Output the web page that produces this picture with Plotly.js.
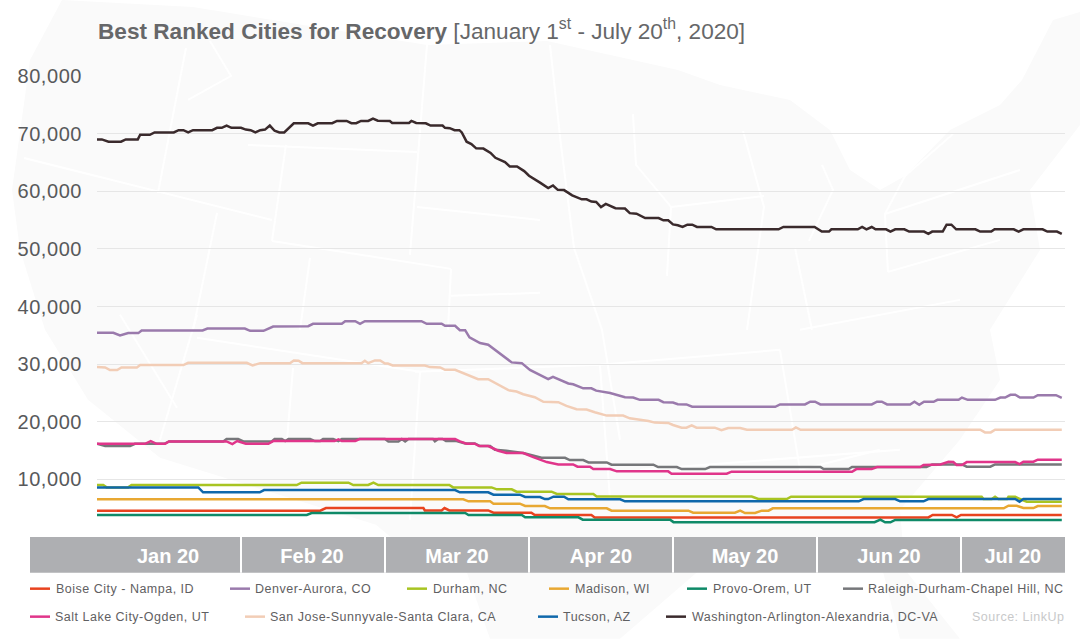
<!DOCTYPE html>
<html><head><meta charset="utf-8">
<script src="https://cdn.plot.ly/plotly-3.0.1.min.js"></script>
<style>
html,body{margin:0;padding:0;background:#fff}
#chart{width:1080px;height:639px}
.annotation-text{letter-spacing:.5px}
.ytick text{letter-spacing:.55px}
</style></head><body><div id="chart"></div>
<script>
// x unit: day index on the chart's equal-width (30 day) month scale; Jan 1 = 0
const monthLabels=["Jan 20","Feb 20","Mar 20","Apr 20","May 20","Jun 20","Jul 20"];
const monthCentres=[14.8,44.8,75,105,135,165,190.8];
const monthEdges=[30,60,90,120,150,180];
const yTicks=[10000,20000,30000,40000,50000,60000,70000,80000];
const names=["Boise City - Nampa, ID","Denver-Aurora, CO","Durham, NC","Madison, WI","Provo-Orem, UT","Raleigh-Durham-Chapel Hill, NC","Salt Lake City-Ogden, UT","San Jose-Sunnyvale-Santa Clara, CA","Tucson, AZ","Washington-Arlington-Alexandria, DC-VA"];

const boiseDays=[0,46.5,47.7,68,68.3,71.8,72.4,73.4,81.5,82.6,90.5,91.2,103,103.7,173.2,174.1,178.1,179.1,180,201];
const boiseValues=[4570,4570,5030,5030,4620,4620,5030,4620,4620,4220,4220,3820,3820,3400,3400,3820,3820,3410,3820,3820];

const denverDays=[0,3.4,4.8,6.5,8.6,9.3,22,23,30.8,31.9,34.7,36.7,44,45,51,51.7,53.8,54.8,55.8,67.6,68.7,71.8,72.5,74.6,75.6,76.7,77.6,79.8,81.5,84,86.4,88.5,90.2,94,95,98.2,99.2,101.3,103,104,106.9,110,111.7,113.1,117,118,120,121,122.8,124,141.3,142.3,147.5,148.6,149.6,150.7,161.4,162.5,163.5,164.6,169.4,170.3,171.3,172.3,174.3,175.1,179.5,180.2,181.4,187.1,188.2,189.2,190.3,191.3,192.3,195.1,196,199.8,201];
const denverValues=[35430,35430,34970,35380,35380,35840,35840,36180,36180,35780,35780,36530,36590,37000,37000,37450,37450,37000,37450,37450,37000,37000,36650,36650,35900,35900,34640,33650,33360,31740,30300,30170,29000,27400,27800,26640,26500,25800,25800,25400,25000,24250,24200,23800,23800,23400,23350,23050,23000,22600,22600,23000,23000,23470,23470,23000,23000,23470,23470,23000,23000,23470,22950,23470,23470,23800,23800,24200,23800,23800,24200,24200,24680,24680,24200,24200,24620,24620,24160];

const durhamDays=[0,1.3,2,6.5,7.2,41.6,42.6,52.4,53.4,56.5,57.6,58.6,73.4,74.2,82.2,83.3,86.4,87.4,94.7,95.8,103.4,104.1,136.4,137.8,143.7,144.6,184.3,184.7,186.4,187.1,187.8,189.6,189.9,191.3,192.3,193.7,201];
const durhamValues=[9020,9020,8610,8610,9020,9020,9420,9420,9020,9020,9420,9020,9020,8610,8610,8270,8270,7860,7860,7460,7460,7020,7020,6590,6590,7000,7000,6590,6590,7000,6590,6590,7000,7000,6590,6130,6130];

const madisonDays=[0,76.3,77.4,81.9,82.6,88.1,89.2,93.3,94.4,106.2,107.2,123.2,124.2,132.9,134,135,137.1,138.5,139.9,140.8,188.9,189.9,191.6,193,195.1,196,201];
const madisonValues=[6530,6530,6190,6190,5780,5780,5380,5380,4970,4970,4570,4570,4220,4220,4570,4160,4160,4570,4570,4970,4970,5430,5430,5030,5030,5380,5380];

const provoDays=[0,43.7,44.7,76.7,77.4,88.5,89.2,100.3,101.2,119.4,120.1,162,163.2,164.2,165.3,166.3,201];
const provoValues=[3820,3820,4160,4160,3820,3820,3410,3410,3010,3010,2580,2560,3010,2540,2540,2950,2950];

const raleighDays=[0,1.7,6.9,7.9,14,15,26.3,27,29.4,30.5,36.4,37,38.5,39.2,39.9,44.4,45.4,46.5,47.1,49.2,50.3,51,60,60.7,62.8,63.5,64.2,64.9,70,70.4,71.1,72,72.7,74.9,76.7,78.7,79.8,81.9,82.9,85.3,88.8,91.6,92.6,97.5,98.5,101.3,102.4,106.2,107.2,115.9,116.9,120.8,121.8,126.7,127.7,150.7,151.4,156.6,157.3,172.8,174,180.2,181.2,186.1,187.1,201];
const raleighValues=[16180,15780,15780,16180,16180,16590,16590,17000,17000,16590,16590,17000,17000,16650,17000,17000,16650,16650,17000,17000,16650,17000,17000,16590,16590,17000,16590,17000,17000,16590,17000,17000,16650,16650,16240,16240,15780,15780,15140,14970,14570,13870,13750,13750,13350,13350,12950,12950,12540,12540,12140,12140,11790,11790,12140,12140,11790,11790,12140,12140,12600,12600,12200,12200,12600,12600];

const saltLakeDays=[0,10,11.2,12.4,14.2,15,27,28.2,29.2,31,35.7,36.7,49.5,50.3,51,53.8,54.7,74.6,75.6,77,78.7,79.6,81.5,83.6,85.3,88.8,90.9,93.7,96.1,99.2,100.1,102.7,103.4,106.9,108.3,119,119.7,131.2,132.2,157.3,158.2,161.4,162.5,171.5,172.2,175.7,177.4,178.4,179.1,180.2,181.2,191.3,192.2,193,195.1,196,201];
const saltLakeValues=[16180,16180,16650,16180,16180,16590,16590,16130,16650,16180,16180,16650,16650,16940,16650,16650,17000,17000,16590,16180,16180,15780,15780,14970,14570,14570,13870,13000,12600,12600,12200,12200,11790,11790,11390,11390,10980,10980,11330,11330,11790,11790,12140,12140,12490,12600,13060,13000,12490,12490,13000,13000,12660,13060,13060,13410,13410];

const sanJoseDays=[0,1.7,2.7,4.2,5.1,8.3,9,18,19,31.2,32.4,34,40.2,41,42,42.8,55.1,55.8,56.5,57.9,59,60,60.6,61.6,68.3,69.4,71.5,72.5,74.6,76.7,79.4,81.5,83.3,85.7,87.4,88.8,91.2,93,96.1,97.8,99.9,102,103.7,106.2,109.6,111,114.9,116.2,119,120,121.8,122.8,123.9,124.9,128.7,130.1,131.5,134,135.4,144.8,145.6,146.6,184,185,186.2,187.1,201];
const sanJoseValues=[29480,29420,28960,28960,29420,29420,29830,29830,30230,30230,29770,30170,30170,30640,30580,30170,30170,30580,30170,30640,30640,30110,30110,29770,29770,29480,29420,29010,29010,28260,27390,27390,26520,25480,25240,24780,24260,23450,23390,22750,22170,22110,21650,21070,21070,20600,20140,19850,19790,19440,18980,18980,19390,18980,18980,18520,18920,18920,18610,18610,19020,18610,18610,18150,18150,18610,18610];

const tucsonDays=[0,21.1,22.1,33.9,34.8,74.6,75.6,81.5,82.6,88.1,89.2,92.3,93.3,94,95.1,97.3,98.2,109,110,158.7,159.7,166.3,167.3,172.2,173.2,191.3,192.2,193,201];
const tucsonValues=[8610,8610,7750,7750,8150,8150,7750,7750,7340,7340,6940,6940,6590,6590,6990,6990,6530,6530,6190,6190,6590,6590,6190,6190,6590,6590,6130,6590,6590];

const washingtonDays=[0,1,2.4,5,6,8.5,9,11,12,16,17,18,19,20,24,25,26,27,28,30,31,32,33,34,35,36,37,38,39,41,44,45,46,49,50,52,53,54,55,56.5,57.5,58.5,61,61.5,65,65.5,66.5,68.5,69.5,72,72.5,73.5,74.5,75.5,76,77,78,79,80.5,82,83,85,86,87.5,89,90,92.3,94,95,96,97.3,99,101,102,103,104,105,106,108,110,111,112.4,114.2,117,118,119,120,121,122,123,124,125,128,129,142,143,149.5,151,152.5,153,158.5,159.4,160.3,161.4,162.2,164.4,165.3,166.3,168.2,169.2,172.3,173.2,174,176.2,177,178,179,183,184,186.3,187,191,192,193,197,198,200,201];
const washingtonValues=[69000,69000,68600,68600,69000,69000,69800,69800,70200,70200,70600,70600,70200,70600,70600,71000,71000,71400,71000,71000,70700,70600,70200,70600,70700,71400,70500,70200,70200,71800,71800,71400,71800,71800,72200,72200,71800,71800,72200,72200,72600,72250,72200,71850,71850,72200,71850,71800,71400,71400,71000,70950,70600,70600,70200,68600,68200,67450,67400,66650,65800,65050,64300,64300,63500,62700,61500,60550,61000,60250,60200,59300,58600,58600,58200,58150,57250,57800,57050,57000,56200,56100,55350,55350,54950,54950,54250,54100,53800,54200,54200,53800,53800,53400,53400,53800,53800,53000,53000,53400,53400,53800,53400,53800,53400,53400,53000,53400,53400,53000,53000,52600,53000,53000,54200,54200,53400,53400,53000,53000,53400,53400,53000,53400,53400,53000,53000,52600];

const colors=["#e8431f","#9a7aac","#a8c422","#e8a832","#0f8a68","#76777a","#e0358a","#f2cdb6","#0f68ab","#3a2a2c"];
const days=[boiseDays,denverDays,durhamDays,madisonDays,provoDays,raleighDays,saltLakeDays,sanJoseDays,tucsonDays,washingtonDays];
const values=[boiseValues,denverValues,durhamValues,madisonValues,provoValues,raleighValues,saltLakeValues,sanJoseValues,tucsonValues,washingtonValues];

// page layout in pixels
const L=97,R=1065,T=76,B=537.3;
const px=x=>(x-L)/(R-L), py=y=>(B-y)/(B-T);
const legendRow=[589,589,589,589,589,589,617,617,617,617];
const legendSwatch=[30,230,407,549,687,843,30,245,538,666];
const legendText=[55,254,432,574,712,867,54,269,562,691];

const mapOutline=[[62,0],[193,7],[427,45],[547,41],[678,70],[720,85],[790,100],[830,130],[850,170],[880,190],[905,176],[950,130],[1000,105],[1022,80],[1053,20],[1080,12],[1080,125],[1030,190],[1040,250],[990,330],[1000,380],[960,440],[900,510],[905,570],[960,639],[900,639],[880,560],[800,560],[700,570],[620,639],[490,639],[467,573],[400,545],[376,525],[160,458],[88,400],[45,330],[20,250],[12,190],[30,60]];
const mapBorders=[[[24,158],[272,220]],[[272,241],[451,269]],[[417,207],[540,220]],[[186,48],[158,193]],[[217,213],[193,330]],[[286,145],[272,241]],[[427,45],[410,255]],[[310,258],[300,330]],[[451,269],[448,330]],[[248,145],[417,152]],[[210,41],[231,76],[188,100]],[[451,296],[540,293]],[[120,315],[177,408]],[[197,315],[160,440]],[[293,368],[287,440]],[[197,338],[420,372]],[[550,45],[561,145],[574,248],[602,330],[620,440]],[[633,114],[636,165],[671,207],[667,276]],[[671,207],[764,196]],[[743,131],[764,207],[747,330]],[[795,248],[812,330]],[[822,165],[833,190],[809,241]],[[953,134],[905,176],[885,214],[888,272]],[[885,214],[1020,170]],[[888,272],[1000,240]],[[415,372],[600,365],[780,350]],[[600,365],[610,500]],[[780,350],[800,470],[880,450]],[[800,330],[960,300]],[[420,372],[410,520]],[[640,470],[900,450]]];
const toPath=(pts,close)=>pts.map((p,i)=>(i?"L":"M")+px(p[0]).toFixed(4)+" "+py(p[1]).toFixed(4)).join(" ")+(close?" Z":"");

const shapes=[
 {type:"path",xref:"paper",yref:"paper",path:toPath(mapOutline,true),fillcolor:"#fafafa",line:{width:0},layer:"below"},
 ...mapBorders.map(b=>({type:"path",xref:"paper",yref:"paper",path:toPath(b,false),line:{color:"#ffffff",width:2},layer:"below"})),
 {type:"rect",xref:"paper",yref:"paper",x0:px(30),x1:1,y0:py(573),y1:py(537.3),fillcolor:"#aeafb2",line:{width:0},layer:"below"},
 ...monthEdges.map(d=>({type:"line",xref:"x",yref:"paper",x0:d,x1:d,y0:py(573),y1:py(537.3),line:{color:"#ffffff",width:2},layer:"below"})),
 ...names.map((n,i)=>({type:"line",xref:"paper",yref:"paper",x0:px(legendSwatch[i]),x1:px(legendSwatch[i]+20),y0:py(legendRow[i]),y1:py(legendRow[i]),line:{color:colors[i],width:2.5}}))
];
const annotations=[
 ...names.map((n,i)=>({text:n,xref:"paper",yref:"paper",x:px(legendText[i]),y:py(legendRow[i]),xanchor:"left",yanchor:"middle",showarrow:false,borderpad:0,font:{family:"Liberation Sans",size:12.5,color:"#5f6062"}})),
 {text:"Source: LinkUp",xref:"paper",yref:"paper",x:1,y:py(617),xanchor:"right",yanchor:"middle",showarrow:false,borderpad:0,font:{family:"Liberation Sans",size:12.5,color:"#c8c9ca"}}
];
const traces=names.map((n,i)=>({type:"scatter",mode:"lines",name:n,x:days[i],y:values[i],line:{color:colors[i],width:2.5,shape:"linear"},hoverinfo:"name+y"}));
const layout={
 width:1080,height:639,paper_bgcolor:"#ffffff",plot_bgcolor:"rgba(0,0,0,0)",showlegend:false,
 margin:{l:L,r:1080-R,t:T,b:639-B,pad:0},
 title:{text:"<b>Best Ranked Cities for Recovery</b> [January 1<sup>st</sup> - July 20<sup>th</sup>, 2020]",x:98/1080,xanchor:"left",xref:"container",y:1-31/639,yanchor:"middle",yref:"container",font:{family:"Liberation Sans",size:22.6,color:"#666769"}},
 xaxis:{range:[0,201.67],tickmode:"array",tickvals:monthCentres,ticktext:monthLabels,showgrid:false,zeroline:false,showline:false,ticks:"outside",ticklen:1,tickcolor:"rgba(0,0,0,0)",tickfont:{family:"Liberation Sans",size:20,weight:"bold",color:"#ffffff"},tickangle:0},
 yaxis:{range:[0,80000],tickmode:"array",tickvals:yTicks,tickformat:",d",showgrid:true,gridcolor:"#e6e6e6",gridwidth:1,zeroline:false,showline:false,ticks:"outside",ticklen:10,tickcolor:"rgba(0,0,0,0)",tickfont:{family:"Liberation Sans",size:20,color:"#58595b"}},
 shapes,annotations
};
Plotly.newPlot("chart",traces,layout,{displayModeBar:false,staticPlot:true});
</script></body></html>
